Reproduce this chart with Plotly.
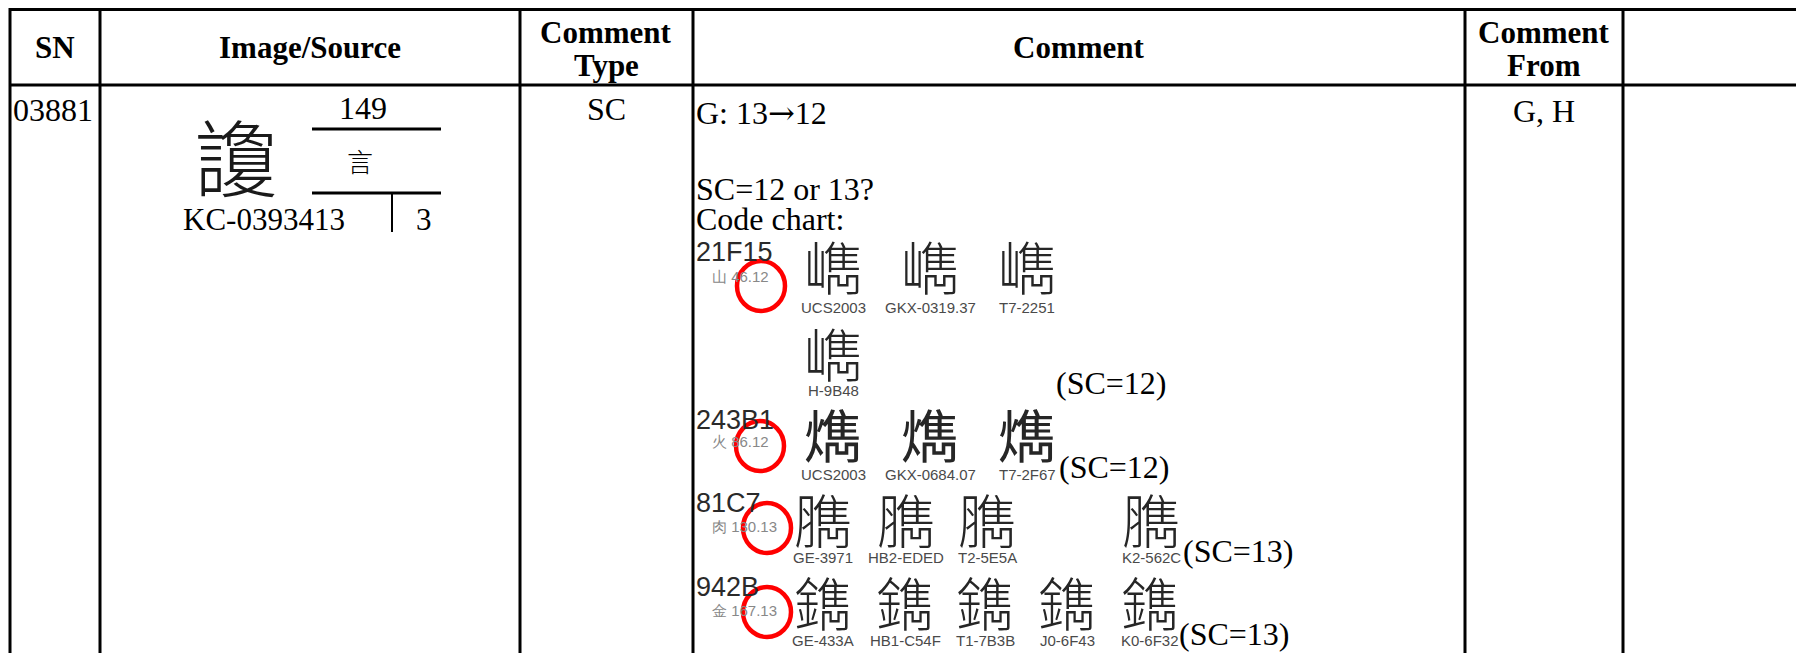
import plotly.graph_objects as go

# ---------------- data (text content of the table) ----------------
header_sn = ["SN"]
header_source = ["Image/Source"]
header_type = ["Comment", "Type"]
header_comment = ["Comment"]
header_from = ["Comment", "From"]

row_sn = "03881"
row_glyph = "讂"
row_radical_num = "149"
row_radical_char = "言"
row_source = "KC-03934"
row_strokes = "13"
row_first_stroke = "3"
row_type = "SC"
row_from = "G, H"
comment_lines = ["G: 13<span style=\"font-family:'DejaVu Serif'\">→</span>12",
                 "SC=12 or 13?", "Code chart:"]

chart_codes = ["21F15", "243B1", "81C7", "942B"]
chart_rs = ["山 46.12", "火 86.12", "肉 130.13", "金 167.13"]
chart_chars = [chr(0x21F15), chr(0x243B1), chr(0x81C7), chr(0x942B)]
chart_row1_labels = ["UCS2003", "GKX-0319.37", "T7-2251"]
chart_row2_labels = ["H-9B48"]
chart_row3_labels = ["UCS2003", "GKX-0684.07", "T7-2F67"]
chart_row4_labels = ["GE-3971", "HB2-EDED", "T2-5E5A", "K2-562C"]
chart_row5_labels = ["GE-433A", "HB1-C54F", "T1-7B3B", "J0-6F43", "K0-6F32"]
sc_notes = ["(SC=12)", "(SC=12)", "(SC=13)", "(SC=13)"]

# ---------------- layout constants ----------------
PAGE_W, PAGE_H = 1804, 653
OFF = 8                      # browser body margin
W, H = PAGE_W - OFF, PAGE_H - OFF
col_x = [10, 100, 520, 693, 1465, 1623]
top_y, head_y = 9.5, 85
SERIF = "Liberation Serif, Times New Roman, serif"
SANS = "Liberation Sans, Arial, sans-serif"
CJK = "Noto Sans CJK TC, Noto Sans CJK SC, sans-serif"
LW = 3

fig = go.Figure()
shapes = []
ann = []


def line(x0, y0, x1, y1, w=LW, color="black"):
    shapes.append(dict(type="line", x0=x0, y0=y0, x1=x1, y1=y1,
                       xref="x", yref="y", line=dict(color=color, width=w)))


def text(x, y, s, size, family=SERIF, color="black", xa="center", ya="middle",
         weight="normal"):
    ann.append(dict(x=x, y=y, xref="x", yref="y", text=s, showarrow=False,
                    xanchor=xa, yanchor=ya, borderpad=0,
                    font=dict(family=family, size=size, color=color, weight=weight)))


# table grid
line(col_x[0], top_y, PAGE_W, top_y)
line(col_x[0], head_y, PAGE_W, head_y)
for cx in col_x:
    line(cx, OFF, cx, PAGE_H)

# header
HS = 31
text(55, 47, header_sn[0], HS, weight="bold")
text(310, 47, header_source[0], HS, weight="bold")
text(606, 32, header_type[0], HS, weight="bold")
text(606, 65, header_type[1], HS, weight="bold")
text(1079, 47, header_comment[0], HS, weight="bold")
text(1544, 32, header_from[0], HS, weight="bold")
text(1544, 65, header_from[1], HS, weight="bold")

# body
BS = 32
text(12, 110, row_sn, BS, xa="left")
text(606, 109, row_type, BS)
text(1544, 111, row_from, BS)

# image / source cell
text(236, 154, row_glyph, 84, family=CJK, color="#1a1a1a", weight=300)
text(363, 108, row_radical_num, BS)
line(312, 129, 441, 129, w=3)
text(360, 160, row_radical_char, 26, family=CJK, weight=300)
line(312, 193, 441, 193, w=3)
line(392, 193, 392, 232, w=2)
text(346, 219, row_source + row_strokes, 31, xa="right")
text(424, 219, row_first_stroke, 31)

# comment text
for s, y in zip(comment_lines, [113, 189, 219]):
    text(695, y, s, BS, xa="left")

# code chart
code_y = [252, 420, 503, 587]
rs_y = [276, 441, 526, 610]
for c, cy in zip(chart_codes, code_y):
    text(695, cy, c, 27, family=SANS, color="#2a2a2a", xa="left")
for r, ry in zip(chart_rs, rs_y):
    text(711, ry, r, 15, family=SANS, color="#888888", xa="left")

GS = 58
LS = 15
LC = "#4a4a4a"
GC = "#262626"
GW = 300
row1_x = [833, 930, 1027]
for x, lab in zip(row1_x, chart_row1_labels):
    text(x, 265, chart_chars[0], GS, family=CJK, color=GC, weight=GW)
    text(x, 307, lab, LS, family=SANS, color=LC)
for x, lab in zip(row1_x[:1], chart_row2_labels):
    text(x, 352, chart_chars[0], GS, family=CJK, color=GC, weight=GW)
    text(x, 390, lab, LS, family=SANS, color=LC)
for x, lab in zip(row1_x, chart_row3_labels):
    text(x, 433, chart_chars[1], GS, family=CJK, color=GC, weight=GW)
    text(x, 474, lab, LS, family=SANS, color=LC)
row4_x = [823, 906, 987, 1151]
for x, lab in zip(row4_x, chart_row4_labels):
    text(x, 518, chart_chars[2], GS, family=CJK, color=GC, weight=GW)
    text(x, 557, lab, LS, family=SANS, color=LC)
row5_x = [823, 905, 985, 1067, 1150]
for x, lab in zip(row5_x, chart_row5_labels):
    text(x, 601, chart_chars[3], GS, family=CJK, color=GC, weight=GW)
    text(x, 640, lab, LS, family=SANS, color=LC)

note_pos = [(1055, 383), (1058, 467), (1182, 551), (1178, 634)]
for s, (x, y) in zip(sc_notes, note_pos):
    text(x, y, s, BS, xa="left")

# red circles
circ = [(761, 286), (760, 446), (767, 528), (767, 612)]
for cx, cy in circ:
    shapes.append(dict(type="circle", xref="x", yref="y",
                       x0=cx - 24, x1=cx + 24, y0=cy - 25, y1=cy + 25,
                       line=dict(color="#ff0000", width=4.5)))

fig.update_layout(
    width=W, height=H,
    margin=dict(l=0, r=0, t=0, b=0),
    paper_bgcolor="white", plot_bgcolor="white",
    showlegend=False,
    shapes=shapes, annotations=ann,
    xaxis=dict(range=[OFF, PAGE_W], visible=False, fixedrange=True),
    yaxis=dict(range=[PAGE_H, OFF], visible=False, fixedrange=True),
)
fig.write_html("out.html")
